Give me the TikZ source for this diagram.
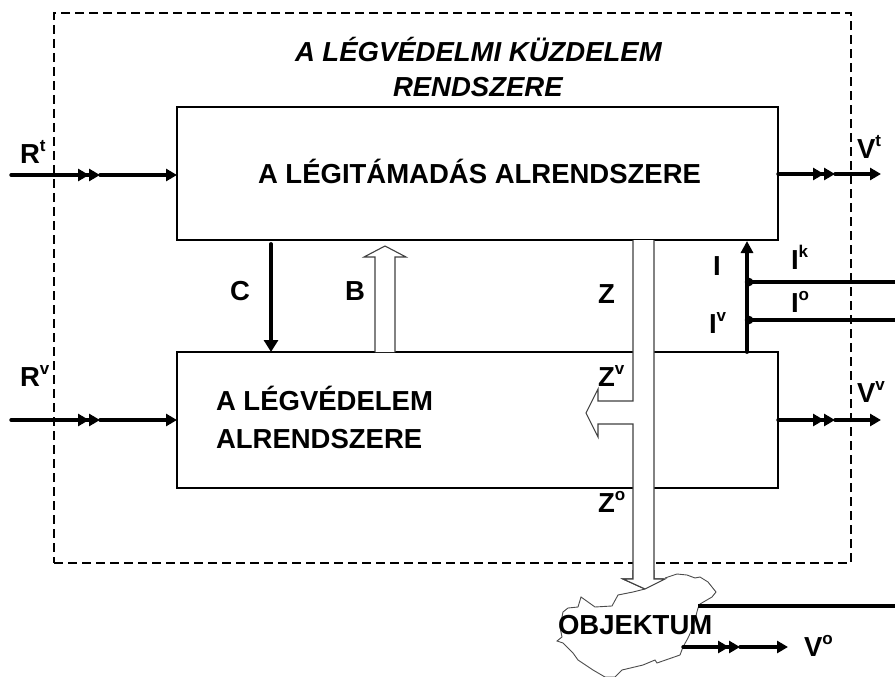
\documentclass[tikz,border=0pt]{standalone}
\usepackage{fontspec}
\setmainfont{Liberation Sans}
\usetikzlibrary{arrows.meta}
\tikzset{
  every node/.style={font=\fontsize{27.5}{32}\selectfont\bfseries, inner sep=0pt, outer sep=0pt},
  lbl/.style={anchor=base west},
  sysbox/.style={draw, line width=1.4pt, fill=white, inner sep=0pt, outer sep=0pt},
  flow/.style={line width=3.4pt, line cap=round},
  tip/.style={-{Triangle[length=11pt,width=12pt]}},
  tiptwo/.style={-{Triangle[length=11pt,width=12pt]Triangle[length=11pt,width=12pt]}},
  hollow/.style={draw=black!75, line width=1.1pt, fill=white, line join=miter},
  feed/.style={line width=3.8pt},
  jdot/.style={circle, fill=black, minimum size=8.5pt}
}
\newcommand{\up}[1]{\raisebox{0.42em}{\fontsize{17}{17}\selectfont #1}}
\begin{document}
\begin{tikzpicture}[x=1pt,y=-1pt]
\useasboundingbox (0,0) rectangle (895,677);
\fill[white] (0,0) rectangle (895,677);

% system border
\node (sys) [draw, line width=1.3pt, dash pattern=on 9pt off 5pt, minimum width=797pt, minimum height=550pt] at (452.5,288) {};

% subsystems
\node (att) [sysbox, minimum width=601pt, minimum height=133pt] at (477.5,173.5) {};
\node (def) [sysbox, minimum width=601pt, minimum height=136pt] at (477.5,420) {};

% hollow arrow Z with branch
\draw[hollow] (633,240) -- (633,401) -- (598,401) -- (598,389) -- (586,413) -- (598,437) -- (598,424) -- (633,424) -- (633,579) -- (623,579) -- (645,589) -- (665,579) -- (654,579) -- (654,240);

% hollow arrow B
\draw[hollow] (375,352) -- (375,257) -- (364,257) -- (385,246) -- (406,257) -- (395,257) -- (395,352);

% object outline
\draw[black!70, line width=0.9pt, fill=white]
 (665,578) -- (677,574) -- (687,575) -- (695,578) -- (700,577) -- (708,582) -- (716,592) -- (712,597) -- (700,604) -- (698,608) -- (693,627) -- (688,638) -- (683,647) -- (680,655) -- (657,663) -- (655,660) -- (643,665) -- (622,670) -- (615,677)
 -- (605,677) -- (593,670) -- (578,660) -- (573,653) -- (563,643) -- (557,641) -- (562,637) -- (560,627) -- (563,612) -- (568,608) -- (578,607) -- (581,597) -- (595,607) -- (612,606) -- (618,595) -- (633,592) -- (645,589);
\draw[hollow, fill=white] (633,570) -- (633,579) -- (623,579) -- (645,589) -- (665,579) -- (654,579) -- (654,570);
\fill[white] (634,568) rectangle (653,579);

% inputs
\coordinate (rt0) at (11,175);
\coordinate (rtm) at (100,175);
\draw[flow, tiptwo] (rt0) -- (rtm);
\draw[flow, tip] (rtm) -- (att.west |- rtm);
\coordinate (rv0) at (11,420);
\coordinate (rvm) at (100,420);
\draw[flow, tiptwo] (rv0) -- (rvm);
\draw[flow, tip] (rvm) -- (def.west |- rvm);

% outputs
\coordinate (vtm) at (835,174);
\coordinate (vte) at (881,174);
\draw[flow, tiptwo] (att.east |- vtm) -- (vtm);
\draw[flow, tip] (vtm) -- (vte);
\coordinate (vvm) at (835,420);
\coordinate (vve) at (881,420);
\draw[flow, tiptwo] (def.east |- vvm) -- (vvm);
\draw[flow, tip] (vvm) -- (vve);
\coordinate (vo0) at (683,647);
\coordinate (vom) at (740,647);
\coordinate (voe) at (788,647);
\draw[flow, tiptwo] (vo0) -- (vom);
\draw[flow, tip] (vom) -- (voe);

% C
\coordinate (c0) at (271,244);
\draw[feed, line cap=round, -{Triangle[length=12pt,width=14pt]}] (c0) -- (c0 |- def.north);

% I
\coordinate (i0) at (747,352);
\coordinate (i1) at (747,241);
\draw[feed, line cap=round, -{Triangle[length=12pt,width=12pt]}] (i0) -- (i1);
\node (dk) [jdot] at (749,282) {};
\node (dv) [jdot] at (749,320) {};
\coordinate (ik) at (895,282);
\coordinate (io) at (895,320);
\draw[feed] (dk.center) -- (ik);
\draw[feed] (dv.center) -- (io);
\coordinate (ob) at (698,606);
\coordinate (obe) at (895,606);
\draw[line width=4.4pt] (ob) -- (obe);

% texts
\node (title1) [lbl, font=\fontsize{27.5}{32}\selectfont\bfseries\itshape] at (295,62) {A LÉGVÉDELMI KÜZDELEM};
\node (title2) [lbl, font=\fontsize{27.5}{32}\selectfont\bfseries\itshape] at (393,97) {RENDSZERE};
\node (attt) [lbl] at (258,183) {A LÉGITÁMADÁS ALRENDSZERE};
\node (deft1) [lbl] at (216,410) {A LÉGVÉDELEM};
\node (deft2) [lbl] at (216,448) {ALRENDSZERE};
\node (objt) [lbl] at (558,634) {OBJEKTUM};
\node (rt) [lbl] at (20,163) {R\up{t}};
\node (rv) [lbl] at (20,386) {R\up{v}};
\node (vt) [lbl] at (857,158) {V\up{t}};
\node (vv) [lbl] at (857,402) {V\up{v}};
\node (vo) [lbl] at (804,656) {V\up{o}};
\node (lc) [lbl] at (230,300) {C};
\node (lb) [lbl] at (345,300) {B};
\node (lz) [lbl] at (598,303) {Z};
\node (li) [lbl] at (713,275) {I};
\node (lik) [lbl] at (791,269) {I\up{k}};
\node (lio) [lbl] at (791,312) {I\up{o}};
\node (liv) [lbl] at (709,333) {I\up{v}};
\node (lzv) [lbl] at (598,386) {Z\up{v}};
\node (lzo) [lbl] at (598,512) {Z\up{o}};
\end{tikzpicture}
\end{document}
